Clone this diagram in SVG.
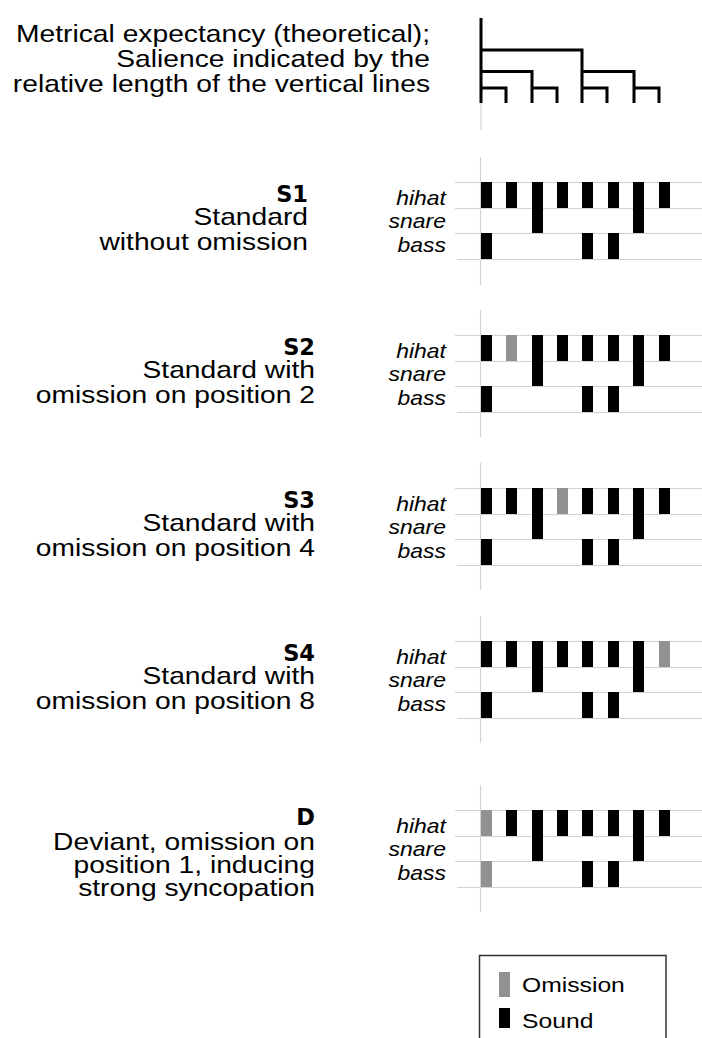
<svg xmlns="http://www.w3.org/2000/svg" width="702" height="1038" viewBox="0 0 702 1038">
<style>
.bg{fill:#fff}
.t{font-family:"Liberation Sans",Arial,sans-serif;font-size:24px;fill:#000}
.lg{font-family:"Liberation Sans",Arial,sans-serif;font-size:21px;fill:#000}
.b{font-family:"DejaVu Sans",sans-serif;font-weight:bold;font-size:22.5px;fill:#000}
.i{font-family:"Liberation Sans",Arial,sans-serif;font-style:italic;font-size:20.5px;fill:#000}
.grid{stroke:#d2d2d2;stroke-width:1;fill:none}
.vl{stroke:#d2d2d2;stroke-width:1.2;fill:none}
.tree{stroke:#000;stroke-width:3;fill:none;stroke-linecap:butt;stroke-linejoin:miter}
.s{fill:#000}
.o{fill:#919191}
</style>
<rect class="bg" x="0" y="0" width="702" height="1038"/>

<g id="metrical">
  <text class="t" text-anchor="end" transform="translate(430,42) scale(1.176,1)">Metrical expectancy (theoretical);</text>
  <text class="t" text-anchor="end" transform="translate(430,67) scale(1.176,1)">Salience indicated by the</text>
  <text class="t" text-anchor="end" transform="translate(430,91.5) scale(1.176,1)">relative length of the vertical lines</text>
  <line class="vl" x1="481" y1="100" x2="481" y2="130"/>
  <path class="tree" d="M481,18 V103 M481,50 H582 V103 M481,71.5 H532 V103 M582,71.5 H634 V103 M481,88 H506 V103 M532,88 H557 V103 M582,88 H607 V103 M634,88 H659 V103"/>
</g>

<g id="S1">
  <text class="b" text-anchor="end" x="308" y="202">S1</text>
  <text class="t" text-anchor="end" transform="translate(308,225) scale(1.176,1)">Standard</text>
  <text class="t" text-anchor="end" transform="translate(308,250) scale(1.176,1)">without omission</text>
  <line class="vl" x1="480.5" y1="157" x2="480.5" y2="285"/>
  <path class="grid" d="M455,182.5 H702 M455,208.5 H702 M455,233.5 H702 M457,259.5 H702"/>
  <text class="i" text-anchor="end" transform="translate(446,205) scale(1.12,1)">hihat</text>
  <text class="i" text-anchor="end" transform="translate(446,228) scale(1.12,1)">snare</text>
  <text class="i" text-anchor="end" transform="translate(446,251.5) scale(1.12,1)">bass</text>
  <rect class="s" x="481" y="182" width="11" height="26"/>
  <rect class="s" x="506" y="182" width="11" height="26"/>
  <rect class="s" x="532" y="182" width="11" height="51"/>
  <rect class="s" x="557" y="182" width="11" height="26"/>
  <rect class="s" x="582" y="182" width="11" height="26"/>
  <rect class="s" x="608" y="182" width="11" height="26"/>
  <rect class="s" x="633" y="182" width="11" height="51"/>
  <rect class="s" x="659" y="182" width="11" height="26"/>
  <rect class="s" x="481" y="233" width="11" height="26"/>
  <rect class="s" x="582" y="233" width="11" height="26"/>
  <rect class="s" x="608" y="233" width="11" height="26"/>
</g>

<g id="S2">
  <text class="b" text-anchor="end" x="315" y="355">S2</text>
  <text class="t" text-anchor="end" transform="translate(315,378) scale(1.176,1)">Standard with</text>
  <text class="t" text-anchor="end" transform="translate(315,403) scale(1.176,1)">omission on position 2</text>
  <line class="vl" x1="480.5" y1="310" x2="480.5" y2="437"/>
  <path class="grid" d="M455,335.5 H702 M455,361.5 H702 M455,386.5 H702 M457,412.5 H702"/>
  <text class="i" text-anchor="end" transform="translate(446,358) scale(1.12,1)">hihat</text>
  <text class="i" text-anchor="end" transform="translate(446,381) scale(1.12,1)">snare</text>
  <text class="i" text-anchor="end" transform="translate(446,404.5) scale(1.12,1)">bass</text>
  <rect class="s" x="481" y="335" width="11" height="26"/>
  <rect class="o" x="506" y="335" width="11" height="26"/>
  <rect class="s" x="532" y="335" width="11" height="51"/>
  <rect class="s" x="557" y="335" width="11" height="26"/>
  <rect class="s" x="582" y="335" width="11" height="26"/>
  <rect class="s" x="608" y="335" width="11" height="26"/>
  <rect class="s" x="633" y="335" width="11" height="51"/>
  <rect class="s" x="659" y="335" width="11" height="26"/>
  <rect class="s" x="481" y="386" width="11" height="26"/>
  <rect class="s" x="582" y="386" width="11" height="26"/>
  <rect class="s" x="608" y="386" width="11" height="26"/>
</g>

<g id="S3">
  <text class="b" text-anchor="end" x="315" y="508">S3</text>
  <text class="t" text-anchor="end" transform="translate(315,531) scale(1.176,1)">Standard with</text>
  <text class="t" text-anchor="end" transform="translate(315,556) scale(1.176,1)">omission on position 4</text>
  <line class="vl" x1="480.5" y1="463" x2="480.5" y2="590"/>
  <path class="grid" d="M455,488.5 H702 M455,514.5 H702 M455,539.5 H702 M457,565.5 H702"/>
  <text class="i" text-anchor="end" transform="translate(446,511) scale(1.12,1)">hihat</text>
  <text class="i" text-anchor="end" transform="translate(446,534) scale(1.12,1)">snare</text>
  <text class="i" text-anchor="end" transform="translate(446,557.5) scale(1.12,1)">bass</text>
  <rect class="s" x="481" y="488" width="11" height="26"/>
  <rect class="s" x="506" y="488" width="11" height="26"/>
  <rect class="s" x="532" y="488" width="11" height="51"/>
  <rect class="o" x="557" y="488" width="11" height="26"/>
  <rect class="s" x="582" y="488" width="11" height="26"/>
  <rect class="s" x="608" y="488" width="11" height="26"/>
  <rect class="s" x="633" y="488" width="11" height="51"/>
  <rect class="s" x="659" y="488" width="11" height="26"/>
  <rect class="s" x="481" y="539" width="11" height="26"/>
  <rect class="s" x="582" y="539" width="11" height="26"/>
  <rect class="s" x="608" y="539" width="11" height="26"/>
</g>

<g id="S4">
  <text class="b" text-anchor="end" x="315" y="661">S4</text>
  <text class="t" text-anchor="end" transform="translate(315,684) scale(1.176,1)">Standard with</text>
  <text class="t" text-anchor="end" transform="translate(315,709) scale(1.176,1)">omission on position 8</text>
  <line class="vl" x1="480.5" y1="616" x2="480.5" y2="743"/>
  <path class="grid" d="M455,641.5 H702 M455,667.5 H702 M455,692.5 H702 M457,718.5 H702"/>
  <text class="i" text-anchor="end" transform="translate(446,664) scale(1.12,1)">hihat</text>
  <text class="i" text-anchor="end" transform="translate(446,687) scale(1.12,1)">snare</text>
  <text class="i" text-anchor="end" transform="translate(446,710.5) scale(1.12,1)">bass</text>
  <rect class="s" x="481" y="641" width="11" height="26"/>
  <rect class="s" x="506" y="641" width="11" height="26"/>
  <rect class="s" x="532" y="641" width="11" height="51"/>
  <rect class="s" x="557" y="641" width="11" height="26"/>
  <rect class="s" x="582" y="641" width="11" height="26"/>
  <rect class="s" x="608" y="641" width="11" height="26"/>
  <rect class="s" x="633" y="641" width="11" height="51"/>
  <rect class="o" x="659" y="641" width="11" height="26"/>
  <rect class="s" x="481" y="692" width="11" height="26"/>
  <rect class="s" x="582" y="692" width="11" height="26"/>
  <rect class="s" x="608" y="692" width="11" height="26"/>
</g>

<g id="D">
  <text class="b" text-anchor="end" x="315" y="825">D</text>
  <text class="t" text-anchor="end" transform="translate(315,850) scale(1.176,1)">Deviant, omission on</text>
  <text class="t" text-anchor="end" transform="translate(315,873) scale(1.176,1)">position 1, inducing</text>
  <text class="t" text-anchor="end" transform="translate(315,896) scale(1.176,1)">strong syncopation</text>
  <line class="vl" x1="480.5" y1="785" x2="480.5" y2="912"/>
  <path class="grid" d="M455,810.5 H702 M455,836.5 H702 M455,861.5 H702 M457,887.5 H702"/>
  <text class="i" text-anchor="end" transform="translate(446,833) scale(1.12,1)">hihat</text>
  <text class="i" text-anchor="end" transform="translate(446,856) scale(1.12,1)">snare</text>
  <text class="i" text-anchor="end" transform="translate(446,879.5) scale(1.12,1)">bass</text>
  <rect class="o" x="481" y="810" width="11" height="26"/>
  <rect class="s" x="506" y="810" width="11" height="26"/>
  <rect class="s" x="532" y="810" width="11" height="51"/>
  <rect class="s" x="557" y="810" width="11" height="26"/>
  <rect class="s" x="582" y="810" width="11" height="26"/>
  <rect class="s" x="608" y="810" width="11" height="26"/>
  <rect class="s" x="633" y="810" width="11" height="51"/>
  <rect class="s" x="659" y="810" width="11" height="26"/>
  <rect class="o" x="481" y="861" width="11" height="26"/>
  <rect class="s" x="582" y="861" width="11" height="26"/>
  <rect class="s" x="608" y="861" width="11" height="26"/>
</g>

<g id="legend">
  <rect x="479.5" y="955.5" width="186.5" height="100" fill="#fff" stroke="#333" stroke-width="1.5"/>
  <rect class="o" x="499" y="972" width="11" height="25"/>
  <text class="lg" transform="translate(522,991.5) scale(1.176,1)">Omission</text>
  <rect class="s" x="499" y="1008" width="11" height="20"/>
  <text class="lg" transform="translate(522,1027.5) scale(1.176,1)">Sound</text>
</g>
</svg>
